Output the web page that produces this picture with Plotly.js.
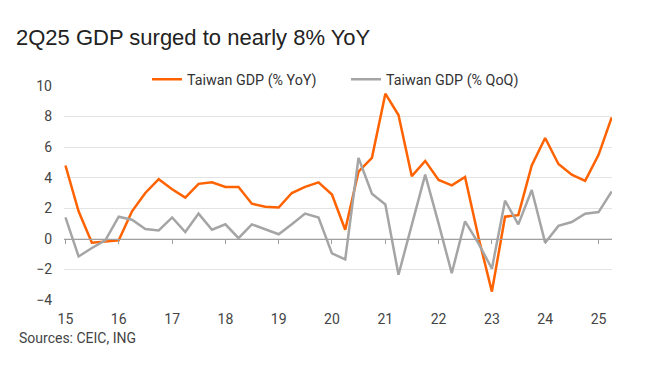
<!DOCTYPE html>
<html>
<head>
<meta charset="utf-8">
<script src="https://cdn.plot.ly/plotly-3.0.1.min.js"></script>
<style>html,body{margin:0;padding:0;background:#fff;}#chart{width:645px;height:373px;}</style>
</head>
<body>
<div id="chart"></div>
<script>
const quarters = [
  '2015Q1','2015Q2','2015Q3','2015Q4',
  '2016Q1','2016Q2','2016Q3','2016Q4',
  '2017Q1','2017Q2','2017Q3','2017Q4',
  '2018Q1','2018Q2','2018Q3','2018Q4',
  '2019Q1','2019Q2','2019Q3','2019Q4',
  '2020Q1','2020Q2','2020Q3','2020Q4',
  '2021Q1','2021Q2','2021Q3','2021Q4',
  '2022Q1','2022Q2','2022Q3','2022Q4',
  '2023Q1','2023Q2','2023Q3','2023Q4',
  '2024Q1','2024Q2','2024Q3','2024Q4',
  '2025Q1','2025Q2'
];
const gdpYoY = [
  4.8, 1.8, -0.25, -0.2,
  -0.1, 1.8, 3.0, 3.9,
  3.25, 2.7, 3.6, 3.7,
  3.4, 3.4, 2.3, 2.1,
  2.05, 3.0, 3.4, 3.7,
  2.9, 0.6, 4.4, 5.3,
  9.5, 8.1, 4.1, 5.1,
  3.85, 3.5, 4.05, 0.1,
  -3.45, 1.45, 1.55, 4.8,
  6.6, 4.9, 4.2, 3.8,
  5.5, 7.95
];
const gdpQoQ = [
  1.4, -1.15, -0.6, -0.1,
  1.45, 1.25, 0.65, 0.55,
  1.4, 0.45, 1.65, 0.6,
  0.95, 0.05, 0.95, 0.6,
  0.3, 0.95, 1.65, 1.4,
  -0.95, -1.35, 5.3, 2.95,
  2.25, -2.35, 0.9, 4.2,
  1.0, -2.25, 1.15, -0.3,
  -1.95, 2.5, 0.95, 3.2,
  -0.25, 0.85, 1.1, 1.65,
  1.75, 3.1
];
const yearTickLabels = ['15','16','17','18','19','20','21','22','23','24','25'];
const yTicks = [-4,-2,0,2,4,6,8,10];

function qToDate(q){
  const y = q.slice(0,4);
  const n = parseInt(q.slice(5),10);
  const m = String((n-1)*3+1).padStart(2,'0');
  return y + '-' + m + '-01';
}
const xDates = quarters.map(qToDate);
const tickVals = yearTickLabels.map(t => '20' + t + '-01-01');

const xRange = ['2014-12-22','2025-04-03'];
const baseFont = {family:'Roboto, "Open Sans", sans-serif', size:14, color:'#444'};
const legendFont = {family:'Roboto, "Open Sans", sans-serif', size:14.3, color:'#333'};

const traces = [
  {x:xDates, y:gdpYoY, type:'scatter', mode:'lines', name:'Taiwan GDP (% YoY)',
   line:{color:'#FF6200', width:2.5}, xaxis:'x', yaxis:'y', legend:'legend', hoverinfo:'skip'},
  {x:xDates, y:gdpQoQ, type:'scatter', mode:'lines', name:'Taiwan GDP (% QoQ)',
   line:{color:'#a5a5a5', width:2.5}, xaxis:'x2', yaxis:'y', legend:'legend2', hoverinfo:'skip'}
];

const layout = {
  width:645, height:373,
  margin:{l:64, r:33, t:86, b:73},
  paper_bgcolor:'#fff', plot_bgcolor:'#fff',
  font: baseFont,
  title:{text:'2Q25 GDP surged to nearly 8% YoY', font:{family:'"Liberation Sans", Arial, sans-serif', size:22, color:'#222'},
         x:16/645, xref:'container', xanchor:'left', y:1-37/373, yref:'container', yanchor:'middle'},
  xaxis:{type:'date', range:xRange, tickmode:'array', tickvals:tickVals, ticktext:yearTickLabels,
         showgrid:false, zeroline:false, showline:false, ticks:'', ticklabelstandoff:9,
         tickfont:baseFont, fixedrange:true},
  xaxis2:{type:'date', range:xRange, overlaying:'x', anchor:'free', position:4/14,
          tickmode:'array', tickvals:tickVals, showticklabels:false,
          showgrid:false, zeroline:false, showline:true, linecolor:'#a0a0a0', linewidth:1.2,
          ticks:'outside', ticklen:4, tickcolor:'#a0a0a0', tickwidth:1, fixedrange:true},
  yaxis:{range:[-4,10], tickmode:'array', tickvals:yTicks, showgrid:true, gridcolor:'#e4e4e4', gridwidth:1,
         zeroline:false, showline:false, ticks:'', ticklabelstandoff:11, tickfont:baseFont, fixedrange:true},
  legend:{orientation:'h', x:(147-64)/548, xanchor:'left', y:(300-79.5)/214, yanchor:'middle',
          font:legendFont, bgcolor:'rgba(0,0,0,0)'},
  legend2:{orientation:'h', x:(346-64)/548, xanchor:'left', y:(300-79.5)/214, yanchor:'middle',
          font:legendFont, bgcolor:'rgba(0,0,0,0)'},
  showlegend:true,
  annotations:[
    {text:'Sources: CEIC, ING', xref:'paper', yref:'paper', x:(17-64)/548, y:(300-338)/214,
     xanchor:'left', yanchor:'middle', showarrow:false, font:{family:'Roboto, "Open Sans", sans-serif', size:14, color:'#444'}}
  ]
};

Plotly.newPlot('chart', traces, layout, {displayModeBar:false, staticPlot:true});
</script>
</body>
</html>
